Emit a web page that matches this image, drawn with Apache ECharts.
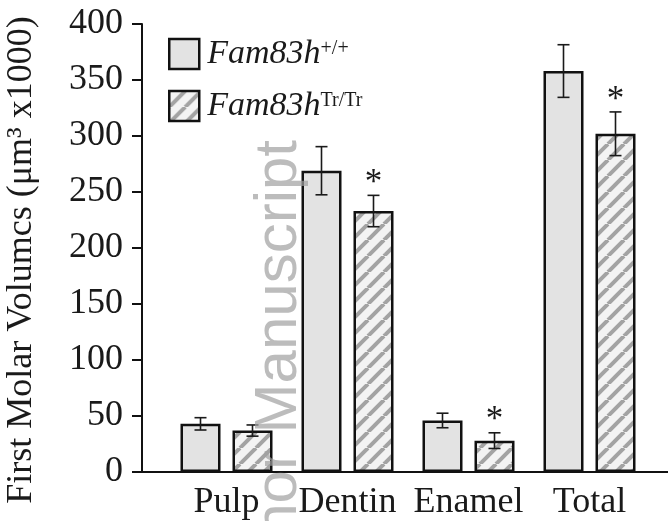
<!DOCTYPE html>
<html><head><meta charset="utf-8">
<script src="https://cdn.jsdelivr.net/npm/echarts@6/dist/echarts.min.js"></script>
<style>html,body{margin:0;padding:0;background:#fff}#c{width:668px;height:521px}</style>
</head><body><div id="c"></div>
<script>
var categories = ['Pulp', 'Dentin', 'Enamel', 'Total'];
var seriesNames = ['Fam83h+/+', 'Fam83hTr/Tr'];
var legendSup = ['+/+', 'Tr/Tr'];
var wtValues = [43, 269, 46, 358];
var wtErrors = [5.5, 21.5, 6.5, 23.5];
var trValues = [37, 233, 28, 302];
var trErrors = [5, 14, 7, 19.5];
var trSignificant = [0, 1, 1, 1];
var yTicks = [0, 50, 100, 150, 200, 250, 300, 350, 400];

var serif = 'Liberation Serif';
var BAR_W = 40, BAR_GAP = 12;

function makeHatch() {
  var s = 16, cv = document.createElement('canvas');
  cv.width = s; cv.height = s;
  var g = cv.getContext('2d');
  g.fillStyle = '#f3f3f3'; g.fillRect(0, 0, s, s);
  g.strokeStyle = '#a3a3a3'; g.lineWidth = 4;
  for (var k = -1; k <= 1; k++) {
    g.beginPath();
    g.moveTo(k * s, s); g.lineTo(k * s + s, 0);
    g.stroke();
  }
  return cv;
}
var hatch = { image: makeHatch(), repeat: 'repeat' };

function errData(vals, errs, sig) {
  return vals.map(function (v, i) { return [i, v, errs[i], sig ? sig[i] : 0]; });
}
function errRender(offset) {
  return function (params, api) {
    var i = api.value(0), v = api.value(1), e = api.value(2), s = api.value(3);
    var top = api.coord([i, v + e]);
    var bot = api.coord([i, v - e]);
    var x = top[0] + offset, cap = 6;
    var st = { stroke: '#1a1a1a', lineWidth: 1.6 };
    var children = [
      { type: 'line', shape: { x1: x, y1: top[1], x2: x, y2: bot[1] }, style: st },
      { type: 'line', shape: { x1: x - cap, y1: top[1], x2: x + cap, y2: top[1] }, style: st },
      { type: 'line', shape: { x1: x - cap, y1: bot[1], x2: x + cap, y2: bot[1] }, style: st }
    ];
    if (s) {
      children.push({ type: 'text', x: x, y: top[1] + 6,
        style: { text: '*', fontFamily: serif, fontSize: 35, fill: '#1a1a1a',
                 align: 'center', verticalAlign: 'bottom' } });
    }
    return { type: 'group', children: children };
  };
}

var chart = echarts.init(document.getElementById('c'));
chart.setOption({
  animation: false,
  grid: [
    { left: 142, right: 0, top: 24, bottom: 49, containLabel: false, outerBoundsMode: 'none' },
    { left: 166, width: 484, top: 24, bottom: 49, containLabel: false, outerBoundsMode: 'none' }
  ],
  xAxis: [
    { type: 'value', gridIndex: 0, min: 0, max: 1,
      axisLine: { show: true, lineStyle: { color: '#111', width: 2 } },
      axisTick: { show: false }, axisLabel: { show: false }, splitLine: { show: false } },
    { type: 'category', gridIndex: 1, data: categories,
      axisLine: { show: false }, axisTick: { show: false },
      axisLabel: { fontFamily: serif, fontSize: 36, color: '#1a1a1a', margin: 13,
                   interval: 0, hideOverlap: false } }
  ],
  yAxis: [
    { type: 'value', gridIndex: 0, min: yTicks[0], max: yTicks[yTicks.length - 1], interval: 50,
      name: 'First Molar Volumcs (μm³ x1000)', nameLocation: 'middle', nameGap: 102,
      nameTextStyle: { fontFamily: serif, fontSize: 36, color: '#1a1a1a', padding: [0, 24, 0, 0] },
      axisLine: { show: true, lineStyle: { color: '#111', width: 2 } },
      axisTick: { show: true, inside: false, length: 10, lineStyle: { color: '#111', width: 2 } },
      axisLabel: { fontFamily: serif, fontSize: 36, color: '#1a1a1a', margin: 19 },
      splitLine: { show: false } },
    { type: 'value', gridIndex: 1, min: 0, max: 400, show: false }
  ],
  legend: {
    left: 168, top: 37, padding: 0, orient: 'vertical', itemWidth: 30, itemHeight: 30, itemGap: 18,
    icon: 'rect', data: seriesNames,
    itemStyle: { borderColor: '#111', borderWidth: 2.5 },
    formatter: function (name) {
      var i = seriesNames.indexOf(name);
      return '{i|Fam83h}{s|' + legendSup[i] + '}';
    },
    textStyle: {
      padding: [0, 0, 0, 3],
      rich: {
        i: { fontFamily: serif, fontStyle: 'italic', fontSize: 34, color: '#1a1a1a', lineHeight: 30 },
        s: { fontFamily: serif, fontSize: 20, color: '#1a1a1a', lineHeight: 18, verticalAlign: 'top' }
      }
    }
  },
  series: [
    { name: seriesNames[0], type: 'bar', xAxisIndex: 1, yAxisIndex: 1, data: wtValues,
      barWidth: BAR_W, barGap: (BAR_GAP / BAR_W * 100) + '%',
      itemStyle: { color: '#e3e3e3', borderColor: '#111', borderWidth: 2.5 } },
    { name: seriesNames[1], type: 'bar', xAxisIndex: 1, yAxisIndex: 1, data: trValues,
      barWidth: BAR_W,
      itemStyle: { color: hatch, borderColor: '#111', borderWidth: 2.5 } },
    { type: 'custom', xAxisIndex: 1, yAxisIndex: 1, data: errData(wtValues, wtErrors),
      renderItem: errRender(-(BAR_W + BAR_GAP) / 2), z: 5, silent: true },
    { type: 'custom', xAxisIndex: 1, yAxisIndex: 1, data: errData(trValues, trErrors, trSignificant),
      renderItem: errRender((BAR_W + BAR_GAP) / 2), z: 5, silent: true }
  ],
  graphic: [
    { type: 'text', x: 279, y: 140, rotation: Math.PI / 2, z: 100, silent: true,
      style: { text: 'Author Manuscript', fontFamily: 'Liberation Sans', fontSize: 60,
               fill: 'rgba(160,160,160,0.7)', align: 'right', verticalAlign: 'middle' } }
  ]
});
</script></body></html>
